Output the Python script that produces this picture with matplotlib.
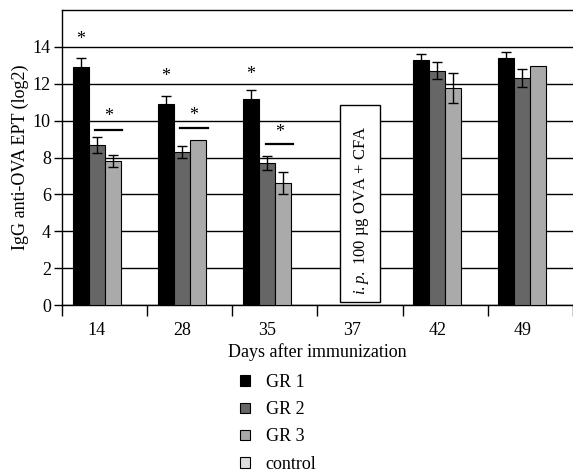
import numpy as np
import matplotlib
matplotlib.use("Agg")
import matplotlib.pyplot as plt
from matplotlib.patches import Patch, Rectangle

plt.rcParams['font.family'] = ['Liberation Serif', 'DejaVu Serif']
plt.rcParams['mathtext.fontset'] = 'custom'
plt.rcParams['mathtext.rm'] = 'Liberation Serif'
plt.rcParams['mathtext.it'] = 'Liberation Serif:italic'

nan = np.nan
days = ["14", "28", "35", "37", "42", "49"]
series_names = ["GR 1", "GR 2", "GR 3", "control"]
gr1 = [12.9, 10.9, 11.17, nan, 13.3, 13.4]
gr1_err = [0.47, 0.45, 0.47, nan, 0.34, 0.33]
gr2 = [8.68, 8.31, 7.72, nan, 12.71, 12.29]
gr2_err = [0.43, 0.33, 0.38, nan, 0.47, 0.49]
gr3 = [7.79, 8.97, 6.6, nan, 11.79, 12.94]
gr3_err = [0.33, nan, 0.6, nan, 0.81, nan]
control = [nan, nan, nan, nan, nan, nan]
colors = ["#000000", "#666666", "#aaaaaa", "#dddddd"]

# significance annotations (groups 14, 28, 35)
sig_groups = [0, 1, 2]
star_gr1_y = [14.4, 12.4, 12.5]
sig_line_y = [9.5, 9.6, 8.75]
star_pair_y = [10.2, 10.3, 9.35]

injection_text = r"$\it{i.p.}$ 100 µg OVA + CFA"
injection_low, injection_high = 0.15, 10.85

FS = 13

fig = plt.figure(figsize=(5.73, 4.75), dpi=100)
ax = fig.add_axes([62/573, 1-305/475, 1-62/573, (305-10)/475])

x = np.arange(len(days))
w = 0.1875
vals = [gr1, gr2, gr3, control]
errs = [gr1_err, gr2_err, gr3_err, [nan]*6]
for k, (v, e) in enumerate(zip(vals, errs)):
    xs = x + (k - 1.5) * w
    ax.bar(xs, v, width=w, color=colors[k], edgecolor="black", linewidth=0.8, zorder=3)
    ax.errorbar(xs, v, yerr=e, fmt="none", ecolor="black", elinewidth=1.0,
                capsize=3.5, capthick=1.0, zorder=4)

for i, g in enumerate(sig_groups):
    ax.text(g - 1.5 * w, star_gr1_y[i], "*", ha="center", va="center", fontsize=13, zorder=5)
    ax.plot([g - 0.11, g + 0.21], [sig_line_y[i]] * 2, color="black", lw=1.6, zorder=5)
    ax.text(g + 0.05, star_pair_y[i], "*", ha="center", va="center", fontsize=13, zorder=5)

# injection box at day 37
gi = days.index("37")
ax.add_patch(Rectangle((gi - 0.23, injection_low), 0.46, injection_high - injection_low,
                       facecolor="white", edgecolor="black", lw=1.0, zorder=5))
ax.text(gi + 0.02, (injection_low + injection_high) / 2 - 0.35, injection_text, rotation=90,
        ha="center", va="center", fontsize=12, zorder=6)

ax.set_xlim(-0.5, len(days) - 0.5)
ax.set_ylim(0, 16)
ax.set_yticks(np.arange(0, 16, 2))
ax.tick_params(axis="y", labelsize=FS, length=6, width=1, direction="out", pad=2)
ax.yaxis.grid(True, color="black", lw=1.0, zorder=1)
ax.set_axisbelow(True)

ax.set_xticks(np.arange(len(days) + 1) - 0.5)
ax.set_xticklabels([])
ax.set_xticks(x - 0.09, minor=True)
ax.set_xticklabels(days, minor=True)
ax.tick_params(axis="x", which="major", length=8, width=1, direction="out")
ax.tick_params(axis="x", which="minor", length=0, labelsize=FS, pad=12)

for s in ["left", "bottom", "top"]:
    ax.spines[s].set_linewidth(1.0)
ax.spines["right"].set_visible(False)

ax.set_ylabel("IgG anti-OVA EPT (log2)", fontsize=FS, labelpad=3)
ax.set_xlabel("Days after immunization", fontsize=FS, labelpad=3)

handles = [Patch(facecolor=c, edgecolor="black", lw=0.8) for c in colors]
fig.legend(handles, series_names, loc="upper left", bbox_to_anchor=(233/573, 1-367/475),
           frameon=False, fontsize=FS, handlelength=0.55, handleheight=0.55,
           handletextpad=0.85, labelspacing=0.56, borderaxespad=0)

fig.savefig("out.png", dpi=100)
